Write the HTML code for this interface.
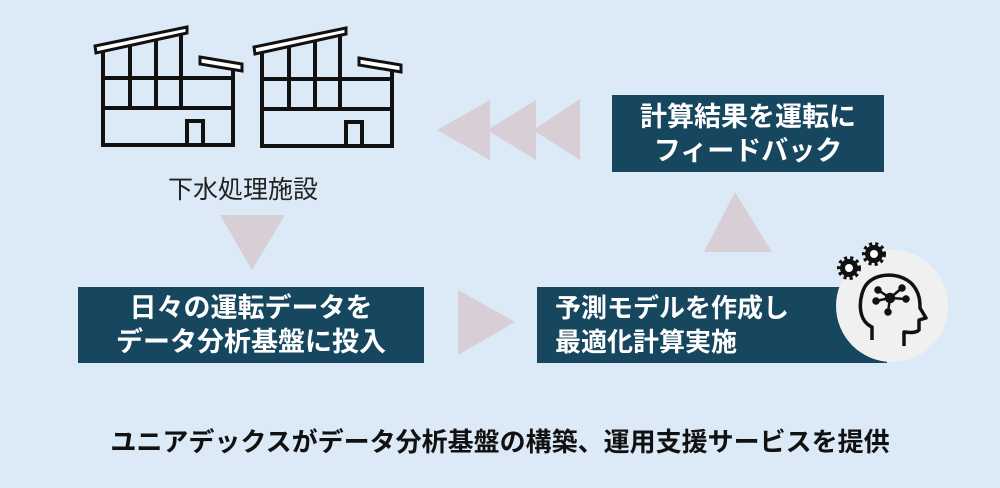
<!DOCTYPE html>
<html><head><meta charset="utf-8"><style>
body{margin:0;width:1000px;height:488px;background:#dce9f7;overflow:hidden;position:relative;font-family:"Liberation Sans","Noto Sans CJK JP",sans-serif}
.box{position:absolute;background:#16475f;color:#fff;font-weight:bold;font-size:27px;line-height:34px}
.t{position:absolute;white-space:nowrap}
</style></head><body>
<svg width="1000" height="488" style="position:absolute;left:0;top:0">
<g fill="#d8cfd6">
<polygon points="437,130 490,100 490,160"/>
<polygon points="487,130 536,100 536,160"/>
<polygon points="533,130 580,99 580,160"/>
<polygon points="735,192 704,252 772,252"/>
<polygon points="220,215 285,215 252,270"/>
<polygon points="458,290 458,355 515,322"/>
</g>
<g id="b" fill="none" stroke="#111" stroke-width="4">
<polygon points="95,46 187,27 187,33 96,53" fill="#fff" stroke-width="3"/>
<polyline points="103,52 103,145 233,145 233,66"/>
<line x1="130" y1="46" x2="130" y2="108"/>
<line x1="156" y1="40" x2="156" y2="108"/>
<line x1="181" y1="33" x2="181" y2="108"/>
<line x1="103" y1="78" x2="233" y2="78"/>
<line x1="103" y1="108" x2="233" y2="108"/>
<polygon points="200,57 242,64 242,71 200,64" fill="#fff" stroke-width="3"/>
<rect x="187" y="121" width="16" height="24"/>
</g>
<use href="#b" x="159" y="1"/>
<rect x="537" y="287" width="350" height="76" fill="#16475f"/>
<circle cx="892" cy="306" r="56" fill="#f0f0f0"/>
<g fill="#111">
<circle cx="849" cy="268" r="9"/><circle cx="874" cy="254" r="9"/>
</g>
<g fill="#111" stroke="#111" stroke-width="4" stroke-dasharray="3 3">
<circle cx="849" cy="268" r="10" fill="none"/><circle cx="874" cy="254" r="10" fill="none"/>
</g>
<circle cx="849" cy="268" r="4" fill="#fff"/><circle cx="874" cy="254" r="4" fill="#fff"/>
<path d="M872,340 L872,327 C856,320 859,295 866,285 C876,272 900,272 912,284 C920,293 920,302 920,308 L926,318 L919,320 L919,330 C915,334 906,332 904,332 L904,346" fill="none" stroke="#111" stroke-width="3.5" stroke-linejoin="round"/>
<g stroke="#111" stroke-width="2.5" fill="#111">
<line x1="890" y1="298" x2="878" y2="290"/><line x1="890" y1="298" x2="902" y2="288"/>
<line x1="890" y1="298" x2="876" y2="301"/><line x1="890" y1="298" x2="906" y2="299"/>
<line x1="890" y1="298" x2="888" y2="312"/>
<circle cx="890" cy="298" r="4"/><circle cx="878" cy="290" r="2.5"/><circle cx="902" cy="288" r="2.5"/><circle cx="876" cy="301" r="2.5"/><circle cx="906" cy="299" r="2.5"/><circle cx="888" cy="312" r="2.5"/>
</g>
</svg>
<div class="t" style="left:168px;top:170px;font-size:25px;color:#222">下水処理施設</div>
<div class="box" style="left:612px;top:95px;width:272px;height:77px;text-align:center;padding-top:5px;box-sizing:border-box">計算結果を運転に<br>フィードバック</div>
<div class="box" style="left:78px;top:287px;width:346px;height:76px;text-align:center;padding-top:4px;box-sizing:border-box">日々の運転データを<br>データ分析基盤に投入</div>
<div class="t" style="left:555px;top:291px;color:#fff;font-weight:bold;font-size:26px;line-height:34px">予測モデルを作成し<br>最適化計算実施</div>
<div class="t" style="left:0;width:1000px;text-align:center;top:422px;font-size:26px;font-weight:bold;color:#111">ユニアデックスがデータ分析基盤の構築、運用支援サービスを提供</div>
</body></html>
